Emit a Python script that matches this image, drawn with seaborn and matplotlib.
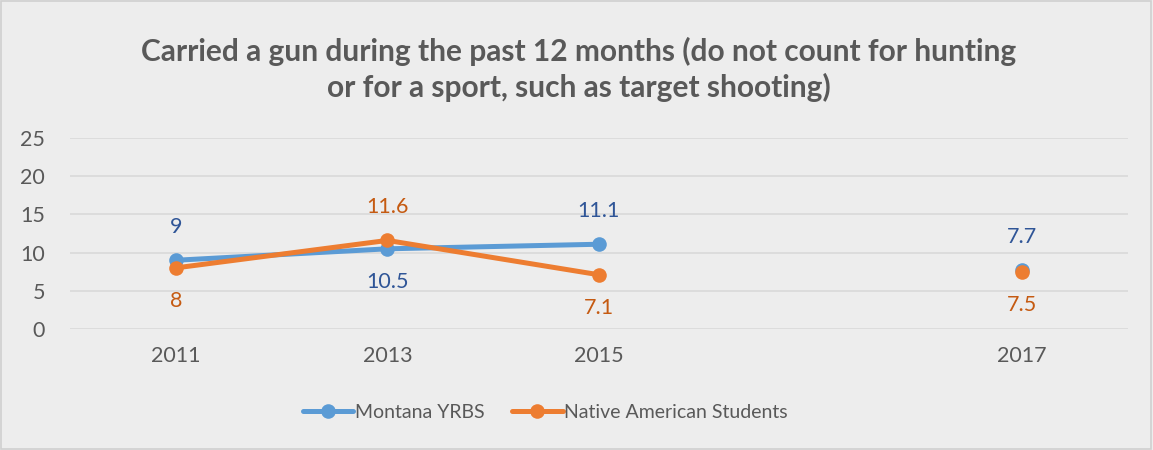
import numpy as np
import pandas as pd
import matplotlib
matplotlib.use("Agg")
import matplotlib.pyplot as plt
from matplotlib.patches import Rectangle
from matplotlib.lines import Line2D
import seaborn as sns

# ---- data ----
years = ["2011", "2013", "2015", "", "2017"]
montana = [9, 10.5, 11.1, np.nan, 7.7]
native = [8, 11.6, 7.1, np.nan, 7.5]
segment = [0, 0, 0, 1, 1]
series_names = ["Montana YRBS", "Native American Students"]
montana_label_pos = ["above", "below", "above", None, "above"]
native_label_pos = ["below", "above", "below", None, "below"]

title = ("Carried a gun during the past 12 months (do not count for hunting\n"
         "or for a sport, such as target shooting)")

line_colors = ["#5B9BD5", "#ED7D31"]
label_colors = ["#2F5597", "#C55A11"]
bg = "#EDEDED"
text_col = "#595959"

sns.set_theme(style="white")
plt.rcParams["font.family"] = ["Lato", "DejaVu Sans"]

idx = list(range(len(years)))
rows = []
for name, vals in zip(series_names, [montana, native]):
    for i, v, s in zip(idx, vals, segment):
        rows.append({"x": i, "value": v, "series": name, "seg": s})
df = pd.DataFrame(rows).dropna()

fig = plt.figure(figsize=(11.53, 4.5), dpi=100)
fig.patch.set_facecolor(bg)
ax = fig.add_axes([0.0607, 0.269, 0.9176, 0.424])
ax.set_facecolor(bg)

sns.lineplot(data=df, x="x", y="value", hue="series", units="seg",
             estimator=None, palette=line_colors, hue_order=series_names,
             linewidth=3.6, marker="o", markersize=10.5, markeredgewidth=0,
             legend=False, ax=ax, sort=True)

ax.set_xlim(-0.5, len(years) - 0.5)
ax.set_ylim(0, 25)
ax.set_yticks([0, 5, 10, 15, 20, 25])
ax.set_xticks(idx)
ax.set_xticklabels(years)
ax.set_xlabel("")
ax.set_ylabel("")
ax.grid(axis="y", color="#D9D9D9", linewidth=1.2)
ax.grid(axis="x", visible=False)
ax.set_axisbelow(True)
for sp in ax.spines.values():
    sp.set_visible(False)
ax.tick_params(axis="both", length=0, labelsize=15.5, colors=text_col)
ax.tick_params(axis="x", pad=12)
ax.tick_params(axis="y", pad=18)

def fmt(v):
    return f"{v:g}"

for vals, pos, col in [(montana, montana_label_pos, label_colors[0]),
                       (native, native_label_pos, label_colors[1])]:
    for i, v, p in zip(idx, vals, pos):
        if p is None or np.isnan(v):
            continue
        off = 24 if p == "above" else -24
        ax.annotate(fmt(v), (i, v), xytext=(0, off), textcoords="offset points",
                    ha="center", va="center", fontsize=15.5, color=col)

fig.text(0.502, 0.846, title, ha="center", va="center", fontsize=21.5,
         fontweight="bold", color=text_col, linespacing=1.28)

handles = [Line2D([0], [0], color=c, lw=3.6, marker="o", markersize=10.5,
                  markeredgewidth=0) for c in line_colors]
fig.legend(handles, series_names, loc="center", bbox_to_anchor=(0.473, 0.083),
           ncol=2, frameon=False, fontsize=14, labelcolor=text_col,
           handlelength=2.6, handletextpad=0.1, columnspacing=1.4)

fig.patches.append(Rectangle((0.001, 0.002), 0.997, 0.995, transform=fig.transFigure,
                             fill=False, edgecolor="#D0D0D0", linewidth=1.2))

fig.savefig("out.png", dpi=100, facecolor=bg)
